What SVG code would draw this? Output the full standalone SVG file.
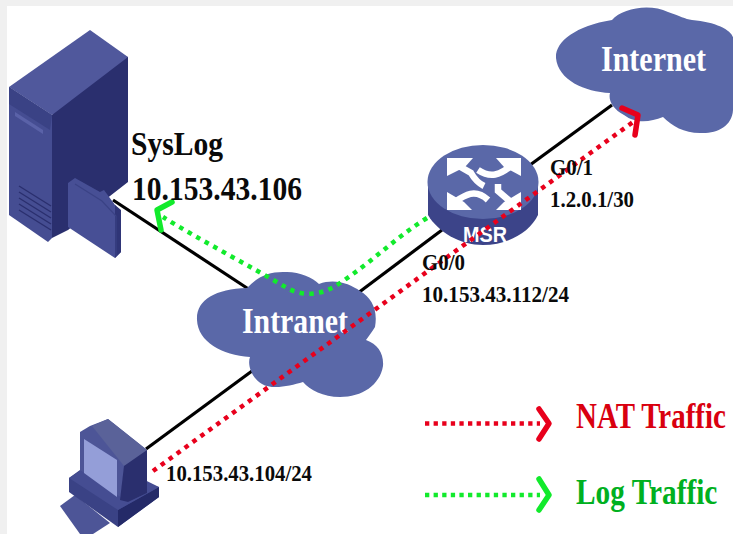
<svg xmlns="http://www.w3.org/2000/svg" width="733" height="534" viewBox="0 0 733 534">
<style>
text{font-family:"Liberation Serif","Times New Roman",serif;font-weight:bold}
.lbl{font-size:23px;fill:#0a0a0a}
.big{font-size:34px;fill:#0a0a0a}
.cl{font-size:36px;fill:#fff}
.leg{font-size:36px}
.cloud{fill:#5a68a8}
.link{stroke:#000;stroke-width:3.2;fill:none}
.red{stroke:#e8001c;stroke-width:4.5;stroke-dasharray:4.5 5.3;fill:none}
.green{stroke:#12ea2c;stroke-width:4.5;stroke-dasharray:4.5 5.3;fill:none}
.redl{stroke:#e8001c;stroke-width:4.5;stroke-dasharray:4.3 4.3;fill:none}
.greenl{stroke:#12ea2c;stroke-width:4.5;stroke-dasharray:4.3 4.3;fill:none}
.rh{stroke:#e8001c;stroke-width:5.5;fill:none;stroke-linejoin:round;stroke-linecap:round}
.gh{stroke:#12ea2c;stroke-width:5.5;fill:none;stroke-linejoin:round;stroke-linecap:round}
.ic{stroke:#fff;stroke-width:6.500;fill:none}
.icf{fill:#fff}
</style>
<rect width="733" height="534" fill="#f0f0f0"/>
<rect x="7" y="6" width="726" height="528" fill="#fff"/>
<g id="connectors">
<line class="link" x1="113" y1="200" x2="250" y2="290"/>
<line class="link" x1="358" y1="293" x2="442" y2="230"/>
<line class="link" x1="530" y1="165" x2="612" y2="105"/>
<line class="link" x1="146" y1="449" x2="252" y2="371"/>
</g>
<g id="server">
<polygon points="52,115 90,50 128,57 128,182 110,196 68,230 52,238" fill="#2a2f6e"/>
<polygon points="90,30 128,57 52,115 9,87" fill="#50589c"/>
<polygon points="9,87 52,115 52,238 48,242 9,215" fill="#454d92"/>
<polygon points="9,87 52,115 50,130 9,104" fill="#3a4285"/>
<polygon points="15,112 43,130 43,134 15,116" fill="#5a62a8"/>
<g stroke="#2a2f6e" stroke-width="1.4">
<line x1="19" y1="186" x2="51" y2="206"/><line x1="19" y1="192" x2="51" y2="212"/><line x1="19" y1="198" x2="51" y2="218"/><line x1="19" y1="204" x2="51" y2="224"/><line x1="19" y1="210" x2="51" y2="230"/>
</g>
<polygon points="68,183 75,178 100,192 104,190 115,205 120,210 121,252 115,258 68,227" fill="#474f95"/>
<polygon points="115,205 121,210 121,252 115,258" fill="#2f3577"/>
<polyline points="75,184 102,201 116,216 116,256" fill="none" stroke="#3a4285" stroke-width="1.2"/>
</g>
<g id="internet">
<path class="cloud" d="M556,58C555,42 575,26 612,20C622,8 650,3 668,12C680,16 685,19 692,20C718,22 735,32 733,40L733,80C736,84 733,100 733,110C732,127 716,134 700,133C684,133 672,126 663,117C650,122 636,124 624,115C613,109 608,100 610,93C585,92 558,80 556,58Z"/>
<text class="cl" x="601" y="71" textLength="105" lengthAdjust="spacingAndGlyphs">Internet</text>
</g>
<g id="intranet">
<path class="cloud" d="M197,320C196,300 215,289 247,288C258,276 270,271 287,272C300,272 313,278 319,284C335,278 350,284 360,291C372,298 378,310 375,327C372,332 368,337 366,340C378,344 384,354 383,366C380,385 362,397 340,397C323,397 310,390 303,382C290,386 272,390 262,384C252,378 247,365 250,357C222,355 198,342 197,320Z"/>
<text class="cl" x="242" y="333" textLength="106" lengthAdjust="spacingAndGlyphs">Intranet</text>
</g>
<g id="router">
<path d="M428,186V215C438,232 460,245 483,245C508,245 530,232 538,215V186Z" fill="#3c4489"/>
<ellipse cx="483" cy="182" rx="55.500" ry="37" fill="#5a68a8"/>
<polygon class="icf" points="447,158 473,158 465,167 447,176"/>
<path class="ic" d="M457,165L471,173C475,180 478,183 484,186"/>
<polygon class="icf" points="521,158 496,158 504,167 521,176"/>
<path class="ic" d="M478,170C490,178 500,176 513,164"/>
<polygon class="icf" points="447,210 472,210 464,202 447,192"/>
<path class="ic" d="M453,203C465,195 475,188 488,200"/>
<polygon class="icf" points="521,210 496,210 504,202 521,192"/>
<path class="ic" d="M512,203L498,191V184"/>
<text x="485" y="242" text-anchor="middle" style="font-family:'Liberation Sans',Arial,sans-serif;font-size:22px;fill:#fff" textLength="44" lengthAdjust="spacingAndGlyphs">MSR</text>
</g>
<g id="pc">
<polygon points="60,506 75,495 110,523 93,534 80,534" fill="#4d5597"/>
<polygon points="69,478 80,470 159,487 159,497 118,527 69,492" fill="#3a4285"/>
<polygon points="118,510 159,487 159,497 118,527" fill="#242a68"/>
<polygon points="69,478 100,458 159,487 118,510" fill="#454d92"/>
<polygon points="80,432 90,426 108,419 147,450 147,493 128,502 80,470" fill="#4d5597"/>
<polygon points="92,426 108,419 147,450 147,456 124,466" fill="#5a6299"/>
<polygon points="124,466 147,450 147,493 128,502 120,500" fill="#2a2f6e"/>
<polygon points="84,439 117,460 117,497 84,473" fill="#949ed8"/>
</g>
<g id="traffic">
<path class="green" d="M427,218C395,238 372,262 340,283C325,294 305,298 287,288C250,266 200,240 163,217"/>
<polyline class="gh" points="172,202 157,210 161,230"/>
<line class="red" x1="153" y1="471" x2="633" y2="122"/>
<polyline class="rh" points="622,108 638,115 635,135"/>
</g>
<g id="labels">
<text class="big" x="131" y="155" textLength="92" lengthAdjust="spacingAndGlyphs">SysLog</text>
<text class="big" x="132" y="200" textLength="170" lengthAdjust="spacingAndGlyphs">10.153.43.106</text>
<text class="lbl" x="550" y="175" textLength="43" lengthAdjust="spacingAndGlyphs">G0/1</text>
<text class="lbl" x="550" y="207" textLength="84" lengthAdjust="spacingAndGlyphs">1.2.0.1/30</text>
<text class="lbl" x="422" y="270" textLength="43" lengthAdjust="spacingAndGlyphs">G0/0</text>
<text class="lbl" x="422" y="302" textLength="147" lengthAdjust="spacingAndGlyphs">10.153.43.112/24</text>
<text class="lbl" x="166" y="481" textLength="146" lengthAdjust="spacingAndGlyphs">10.153.43.104/24</text>
</g>
<g id="legend">
<line class="redl" x1="425" y1="423.500" x2="540" y2="423.500"/>
<polyline class="rh" points="539,409 549,423.500 539,439"/>
<text class="leg" transform="matrix(0.805 0 0 1 576 428)" fill="#d9000f">NAT Traffic</text>
<line class="greenl" x1="425" y1="495" x2="540" y2="495"/>
<polyline class="gh" points="539,479 549,495 539,510"/>
<text class="leg" transform="matrix(0.814 0 0 1 576 504)" fill="#00b020">Log Traffic</text>
</g>
</svg>
